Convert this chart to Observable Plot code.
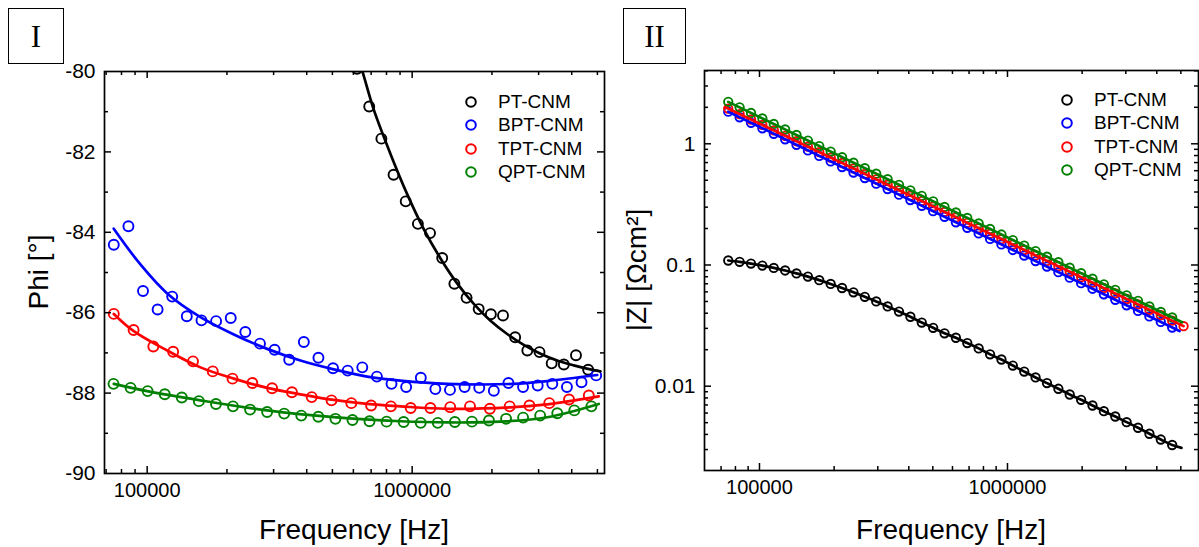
<!DOCTYPE html>
<html><head><meta charset="utf-8">
<script src="https://cdn.jsdelivr.net/npm/d3@7"></script>
<script src="https://cdn.jsdelivr.net/npm/@observablehq/plot@0.6"></script>
<style>
body{margin:0;background:#fff;}
#wrap{position:relative;width:1199px;height:547px;overflow:hidden;font-family:"Liberation Sans",Arial,sans-serif;color:#000;}
.panel{position:absolute;top:0;}
.box{position:absolute;border:1.5px solid #000;font-family:"Liberation Serif","Times New Roman",serif;font-size:31px;display:flex;align-items:center;justify-content:center;box-sizing:border-box;line-height:1;}
.title{position:absolute;font-size:28px;white-space:nowrap;line-height:28px;}
.ytitle{position:absolute;font-size:28px;white-space:nowrap;line-height:28px;transform:translate(-50%,-50%) rotate(-90deg);}
.lrow{position:absolute;height:24px;line-height:24px;font-size:19px;white-space:nowrap;}
.lrow svg{position:absolute;left:0;top:0;}
.lrow span{position:absolute;top:0;}
</style></head><body><div id="wrap"></div>
<script>
// ---------- Series ----------
const seriesNames = ["PT-CNM", "BPT-CNM", "TPT-CNM", "QPT-CNM"];
const seriesColors = ["#000000", "#0000ff", "#ff0000", "#008000"];

// ---------- Panel I : Phi vs frequency (measured) ----------
const phiFreqPT = [619400, 688500, 765300, 850600, 945400, 1051000, 1168000, 1298000, 1443000, 1604000, 1782000, 1981000, 2202000, 2447000, 2720000, 3023000, 3360000, 3735000, 4151000, 4614000];
const phiPT = [-79.93, -80.87, -81.67, -82.57, -83.23, -83.79, -84.02, -84.64, -85.28, -85.63, -85.91, -86.04, -86.07, -86.61, -86.94, -86.98, -87.26, -87.29, -87.06, -87.42];

const phiFreqBPT = [74820, 84970, 96450, 109500, 124300, 141100, 160300, 182000, 206700, 234600, 266500, 302600, 343500, 390100, 442900, 502800, 571000, 648200, 736000, 835600, 949000, 1078000, 1223000, 1389000, 1577000, 1791000, 2033000, 2308000, 2621000, 2976000, 3379000, 3837000, 4356000, 4946000];
const phiBPT = [-84.31, -83.85, -85.46, -85.92, -85.60, -86.09, -86.19, -86.21, -86.13, -86.48, -86.77, -86.92, -87.17, -86.73, -87.12, -87.38, -87.44, -87.36, -87.59, -87.77, -87.85, -87.62, -87.90, -87.92, -87.85, -87.87, -87.94, -87.75, -87.85, -87.81, -87.77, -87.85, -87.73, -87.56];

const phiFreqTPT = [74820, 88870, 105500, 125300, 148900, 176800, 209900, 249400, 296100, 351800, 417800, 496200, 589300, 699800, 831100, 987200, 1172000, 1392000, 1653000, 1964000, 2333000, 2770000, 3290000, 3907000, 4640000];
const phiTPT = [-86.03, -86.43, -86.84, -86.97, -87.21, -87.46, -87.64, -87.75, -87.88, -87.98, -88.10, -88.18, -88.25, -88.31, -88.33, -88.37, -88.37, -88.35, -88.33, -88.39, -88.33, -88.31, -88.25, -88.16, -88.06];

const phiFreqQPT = [74640, 86580, 100400, 116500, 135100, 156700, 181800, 210800, 244500, 283600, 328900, 381500, 442500, 513300, 595400, 690200, 800600, 928600, 1077000, 1249000, 1449000, 1681000, 1949000, 2261000, 2622000, 3041000, 3528000, 4091000, 4745000];
const phiQPT = [-87.77, -87.87, -87.95, -88.03, -88.11, -88.20, -88.27, -88.33, -88.41, -88.47, -88.51, -88.56, -88.59, -88.64, -88.67, -88.70, -88.71, -88.72, -88.74, -88.74, -88.72, -88.71, -88.68, -88.64, -88.61, -88.56, -88.50, -88.43, -88.33];

// ---------- Panel I : fitted curves ----------
const phiFitFreqPT = [620000, 647600, 716300, 828100, 957400, 1106000, 1279000, 1478000, 1708000, 1975000, 2283000, 2637000, 3050000, 3526000, 4072000, 4845000, 5135000];
const phiFitPT = [-79.62, -79.98, -80.95, -82.05, -83.05, -83.92, -84.65, -85.27, -85.78, -86.20, -86.53, -86.80, -87.02, -87.19, -87.31, -87.43, -87.46];
const phiFitFreqBPT = [74800, 94300, 119000, 158900, 212300, 283700, 378800, 506000, 676100, 902500, 1356000, 2412000, 3232000, 4991000];
const phiFitBPT = [-83.91, -84.80, -85.52, -86.11, -86.54, -86.90, -87.19, -87.41, -87.59, -87.69, -87.77, -87.77, -87.70, -87.55];
const phiFitFreqTPT = [74820, 89000, 119000, 158900, 212300, 283700, 378800, 506000, 676100, 902500, 1356000, 2418000, 3232000, 5060000];
const phiFitTPT = [-86.03, -86.46, -86.94, -87.36, -87.64, -87.87, -88.03, -88.17, -88.27, -88.33, -88.39, -88.35, -88.28, -88.08];
const phiFitFreqQPT = [74820, 100000, 158900, 283700, 506000, 902500, 1356000, 2154000, 3232000, 5060000];
const phiFitQPT = [-87.77, -87.95, -88.18, -88.43, -88.60, -88.70, -88.73, -88.71, -88.60, -88.27];

// ---------- Panel II : |Z| vs frequency (measured) ----------
const zFreq = [74820, 83160, 92430, 102700, 114200, 126900, 141000, 156800, 174200, 193700, 215300, 239300, 265900, 295600, 328600, 365200, 405900, 451200, 501500, 557400, 619400, 688500, 765300, 850600, 945400, 1051000, 1168000, 1298000, 1443000, 1604000, 1782000, 1981000, 2202000, 2447000, 2720000, 3023000, 3360000, 3735000, 4151000, 4614000];
const zPT = [0.1089, 0.1061, 0.1027, 0.0989, 0.0946, 0.0901, 0.0852, 0.0802, 0.0750, 0.0698, 0.0646, 0.0595, 0.0546, 0.0500, 0.0455, 0.0413, 0.0374, 0.0335, 0.0303, 0.0273, 0.0251, 0.0227, 0.0205, 0.0183, 0.0166, 0.0148, 0.0132, 0.0118, 0.0106, 0.00952, 0.00854, 0.00772, 0.00693, 0.00622, 0.00562, 0.00505, 0.00454, 0.00405, 0.00363, 0.00327];
const zBPT = [1.840, 1.656, 1.491, 1.342, 1.209, 1.088, 0.980, 0.882, 0.794, 0.715, 0.643, 0.579, 0.521, 0.469, 0.423, 0.380, 0.343, 0.308, 0.278, 0.250, 0.225, 0.2025, 0.1823, 0.1641, 0.1478, 0.1330, 0.1197, 0.1078, 0.0970, 0.0873, 0.0786, 0.0708, 0.0637, 0.0573, 0.0516, 0.0465, 0.0418, 0.0376, 0.0339, 0.0305];
const zFreqTPT = [74820, 83160, 92430, 102700, 114200, 126900, 141000, 156800, 174200, 193700, 215300, 239300, 265900, 295600, 328600, 365200, 405900, 451200, 501500, 557400, 619400, 688500, 765300, 850600, 945400, 1051000, 1168000, 1298000, 1443000, 1604000, 1782000, 1981000, 2202000, 2447000, 2720000, 3023000, 3360000, 3735000, 4151000, 4614000, 5129000];
const zTPT = [1.951, 1.759, 1.587, 1.431, 1.290, 1.164, 1.050, 0.9465, 0.8535, 0.7700, 0.6942, 0.6259, 0.5646, 0.5092, 0.4592, 0.4141, 0.3735, 0.3368, 0.3037, 0.2740, 0.2470, 0.2228, 0.2010, 0.1812, 0.1634, 0.1474, 0.1329, 0.1199, 0.1081, 0.0975, 0.0879, 0.0793, 0.0715, 0.0645, 0.0582, 0.0524, 0.0473, 0.0427, 0.0385, 0.0347, 0.0313];
const zQPT = [2.219, 1.998, 1.799, 1.619, 1.458, 1.313, 1.182, 1.064, 0.9577, 0.8622, 0.7762, 0.6988, 0.6291, 0.5663, 0.5099, 0.4590, 0.4133, 0.3721, 0.3350, 0.3015, 0.2715, 0.2444, 0.2201, 0.1981, 0.1784, 0.1606, 0.1446, 0.1302, 0.1172, 0.1055, 0.0950, 0.0855, 0.0770, 0.0693, 0.0624, 0.0562, 0.0506, 0.0455, 0.0410, 0.0369];

// ---------- Panel II : fitted curves ----------
const zFitTailFreqPT = [5030000];
const zFitTailPT = [0.00310];
const zFitFreqBPT = [74820, 4940000];
const zFitBPT = [1.840, 0.0285];
const zFitFreqTPT = [72950, 5129000];
const zFitTPT = [2.000, 0.0313];
const zFitFreqQPT = [74820, 5060000];
const zFitQPT = [2.219, 0.0337];

// ---------- Ticks ----------
const freqMajorTicks = [100000, 1000000];
const freqMinorTicks = [60000, 70000, 80000, 90000, 200000, 300000, 400000, 500000, 600000, 700000, 800000, 900000, 2000000, 3000000, 4000000, 5000000];
const phiMajorTicks = [-90, -88, -86, -84, -82, -80];
const phiMinorTicks = [-89, -87, -85, -83, -81];
const zMajorTicks = [0.01, 0.1, 1];
const zMinorTicks = [0.003, 0.004, 0.005, 0.006, 0.007, 0.008, 0.009, 0.02, 0.03, 0.04, 0.05, 0.06, 0.07, 0.08, 0.09, 0.2, 0.3, 0.4, 0.5, 0.6, 0.7, 0.8, 0.9, 2, 3, 4];

// ---------- Helpers ----------
const rows = (fs, vs) => fs.map((f, i) => ({f, v: vs[i]}));
const FONT = "Liberation Sans, Arial, sans-serif";
const fmt = d => String(d);
const MAJ = 7, MIN = 4, TW = 1.5;

// inward ticks on all four sides, as rules inset to a short length
function frameAxes(xDom, yDom, fw, fh, xMinor, yMajor, yMinor, yFmt) {
  const xMin = xMinor.filter(d => d > xDom[0] && d < xDom[1]);
  const yMin = yMinor.filter(d => d > Math.min(...yDom) && d < Math.max(...yDom));
  const yMaj = yMajor.filter(d => d > Math.min(...yDom) && d < Math.max(...yDom));
  const s = {stroke: "#000", strokeWidth: TW};
  return [
    Plot.ruleX(freqMajorTicks, {x: d => d, insetTop: fh - MAJ, ...s}),
    Plot.ruleX(xMin, {x: d => d, insetTop: fh - MIN, ...s}),
    Plot.ruleX(freqMajorTicks, {x: d => d, insetBottom: fh - MAJ, ...s}),
    Plot.ruleX(xMin, {x: d => d, insetBottom: fh - MIN, ...s}),
    Plot.ruleY(yMaj, {y: d => d, insetRight: fw - MAJ, ...s}),
    Plot.ruleY(yMin, {y: d => d, insetRight: fw - MIN, ...s}),
    Plot.ruleY(yMaj, {y: d => d, insetLeft: fw - MAJ, ...s}),
    Plot.ruleY(yMin, {y: d => d, insetLeft: fw - MIN, ...s}),
    Plot.frame({stroke: "#000", strokeWidth: 1.7}),
    Plot.axisX({anchor: "bottom", ticks: freqMajorTicks, tickSize: 0, tickPadding: 9, tickFormat: d3.format("d"), label: null, fontSize: 20}),
    Plot.axisY({anchor: "left", ticks: yMajor, tickSize: 0, tickPadding: 9, tickFormat: yFmt, label: null, fontSize: 21})
  ];
}

const wrap = document.getElementById("wrap");

// ---------- Panel I ----------
const L = {width: 620, height: 547, ml: 104, mr: 16, mt: 71, mb: 74};
const phiXDomain = [69020, 5318000];
const phiYDomain = [-90, -80];
const phiSets = [[phiFreqPT, phiPT, phiFitFreqPT, phiFitPT], [phiFreqBPT, phiBPT, phiFitFreqBPT, phiFitBPT], [phiFreqTPT, phiTPT, phiFitFreqTPT, phiFitTPT], [phiFreqQPT, phiQPT, phiFitFreqQPT, phiFitQPT]];
const leftPlot = Plot.plot({
  width: L.width, height: L.height,
  marginLeft: L.ml, marginRight: L.mr, marginTop: L.mt, marginBottom: L.mb,
  style: {fontFamily: FONT, fontSize: "20px", color: "#000", background: "transparent", overflow: "visible"},
  x: {type: "log", domain: phiXDomain},
  y: {domain: phiYDomain},
  marks: [
    ...phiSets.map((s, i) => Plot.dot(rows(s[0], s[1]), {x: "f", y: "v", r: 5, stroke: seriesColors[i], strokeWidth: 1.9, fill: "none", clip: true})),
    ...phiSets.map((s, i) => Plot.line(rows(s[2], s[3]), {x: "f", y: "v", stroke: seriesColors[i], strokeWidth: 2.7, curve: "catmull-rom", clip: true})),
    ...frameAxes(phiXDomain, phiYDomain, L.width - L.ml - L.mr, L.height - L.mt - L.mb, freqMinorTicks, phiMajorTicks, phiMinorTicks, fmt)
  ]
});
const lp = document.createElement("div"); lp.className = "panel"; lp.style.left = "0px"; lp.appendChild(leftPlot); wrap.appendChild(lp);

// ---------- Panel II ----------
const R = {width: 599, height: 547, ml: 104, mr: 1, mt: 70, mb: 77};
const zXDomain = [60020, 5891000];
const zYDomain = [0.002015, 4.025];
const zSets = [
  [zFreq, zPT, [...zFreq, ...zFitTailFreqPT], [...zPT, ...zFitTailPT], "catmull-rom"],
  [zFreq, zBPT, zFitFreqBPT, zFitBPT, "linear"],
  [zFreqTPT, zTPT, zFitFreqTPT, zFitTPT, "linear"],
  [zFreq, zQPT, zFitFreqQPT, zFitQPT, "linear"]
];
const rightPlot = Plot.plot({
  width: R.width, height: R.height,
  marginLeft: R.ml, marginRight: R.mr, marginTop: R.mt, marginBottom: R.mb,
  style: {fontFamily: FONT, fontSize: "20px", color: "#000", background: "transparent", overflow: "visible"},
  x: {type: "log", domain: zXDomain},
  y: {type: "log", domain: zYDomain},
  marks: [
    ...zSets.map((s, i) => Plot.dot(rows(s[0], s[1]), {x: "f", y: "v", r: 4.2, stroke: seriesColors[i], strokeWidth: 1.9, fill: "none", clip: true})),
    ...zSets.map((s, i) => Plot.line(rows(s[2], s[3]), {x: "f", y: "v", stroke: seriesColors[i], strokeWidth: 2.7, curve: s[4], clip: true})),
    ...frameAxes(zXDomain, zYDomain, R.width - R.ml - R.mr, R.height - R.mt - R.mb, freqMinorTicks, zMajorTicks, zMinorTicks, fmt)
  ]
});
const rp = document.createElement("div"); rp.className = "panel"; rp.style.left = "600px"; rp.appendChild(rightPlot); wrap.appendChild(rp);

// ---------- Text overlays ----------
function addDiv(cls, text, css) {
  const d = document.createElement("div"); d.className = cls; d.textContent = text;
  Object.assign(d.style, css); wrap.appendChild(d); return d;
}
addDiv("box", "I", {left: "8px", top: "8px", width: "56px", height: "56px"});
addDiv("box", "II", {left: "623px", top: "8px", width: "63px", height: "56px"});
addDiv("title", "Frequency [Hz]", {left: "354px", top: "516px", transform: "translateX(-50%)"});
addDiv("title", "Frequency [Hz]", {left: "951px", top: "516px", transform: "translateX(-50%)"});
addDiv("ytitle", "Phi [°]", {left: "39px", top: "272px"});
addDiv("ytitle", "|Z| [Ωcm²]", {left: "637px", top: "270px"});

function legend(cx, textX, rowYs) {
  seriesNames.forEach((name, i) => {
    const row = document.createElement("div"); row.className = "lrow";
    row.style.left = (cx - 8) + "px"; row.style.top = (rowYs[i] - 12) + "px"; row.style.width = "160px";
    row.innerHTML = `<svg width="16" height="24"><circle cx="8" cy="12" r="4.8" fill="none" stroke="${seriesColors[i]}" stroke-width="2"/></svg><span style="left:${textX - cx + 8}px">${name}</span>`;
    wrap.appendChild(row);
  });
}
legend(470.7, 498, [101.7, 125.2, 148.5, 171.7]);
legend(1066.7, 1094, [100, 123.3, 146.7, 170]);
</script></body></html>
